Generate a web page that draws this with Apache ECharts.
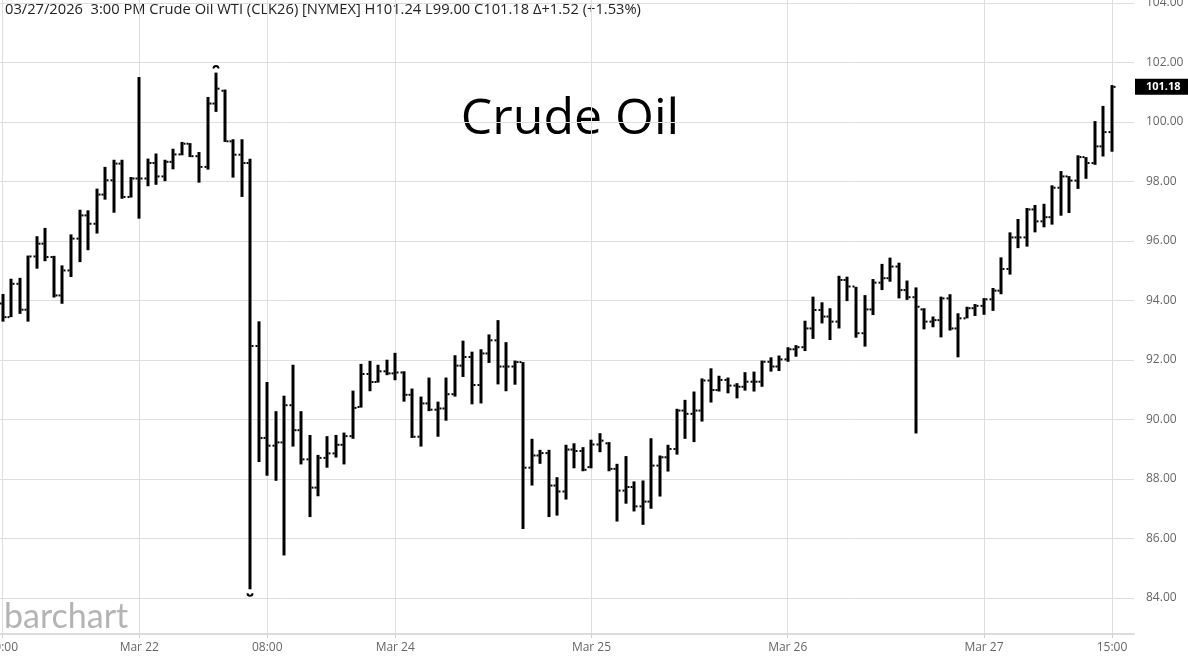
<!DOCTYPE html>
<html>
<head>
<meta charset="utf-8">
<title>Crude Oil</title>
<script src="https://cdn.jsdelivr.net/npm/echarts@6/dist/echarts.min.js"></script>
<style>
  html, body { margin: 0; padding: 0; background: #fff; }
  #chart { width: 1188px; height: 661px; }
</style>
</head>
<body>
<div id="chart"></div>
<script>
// hourly OHLC bars, CLK26, first bar sits 16 bars before the Mar 22 open
const firstBarIdx = -16

const opens = [
  93.90, 93.44, 94.56, 93.69, 95.48, 95.91, 95.46, 94.17, 95.01, 96.08,
  96.86, 96.58, 97.56, 98.04, 98.60, 97.48, 98.10, 98.10, 98.62, 98.17,
  98.66, 98.91, 99.27, 98.85, 98.49, 100.62, 101.05, 99.35, 98.90, 98.62,
  92.47, 89.38, 89.12, 89.23, 90.48, 89.64, 88.66, 87.71, 88.71, 88.86,
  89.15, 89.44, 90.42, 91.53, 91.26, 91.62, 91.55, 91.58, 90.83, 89.42,
  90.54, 90.33, 90.37, 90.85, 91.81, 92.10, 91.16, 92.22, 92.66, 91.78,
  91.78, 91.93, 88.38, 88.79, 88.87, 87.78, 87.58, 88.99, 88.94, 88.40,
  89.16, 89.20, 88.34, 87.61, 87.73, 87.08, 87.24, 88.45, 88.73, 89.01,
  90.30, 90.19, 90.30, 91.31, 90.99, 91.33, 91.14, 91.10, 91.27, 91.27,
  91.94, 91.78, 92.02, 92.36, 92.43, 93.06, 93.68, 93.46, 93.29, 94.69,
  94.47, 92.90, 93.70, 94.60, 94.75, 95.14, 94.35, 94.11, 93.70, 93.29,
  93.34, 94.07, 93.06, 93.40, 93.74, 93.82, 94.04, 94.33, 95.06, 96.12,
  96.12, 97.06, 96.66, 96.80, 97.79, 98.17, 98.03, 98.82, 98.62, 99.18,
  99.66
]
const highs = [
  94.22, 94.73, 94.76, 95.51, 96.16, 96.44, 95.50, 95.18, 96.22, 97.05,
  97.03, 97.76, 98.49, 98.73, 98.73, 98.15, 101.51, 98.77, 98.94, 98.73,
  99.10, 99.33, 99.29, 98.99, 100.84, 101.66, 101.09, 99.42, 99.42, 98.76,
  93.30, 91.26, 90.28, 90.80, 91.84, 90.28, 89.48, 88.81, 89.44, 89.48,
  89.56, 90.97, 91.87, 91.97, 91.84, 92.01, 92.24, 91.62, 91.04, 90.77,
  91.41, 90.60, 91.41, 92.16, 92.65, 92.28, 92.36, 92.86, 93.34, 92.60,
  91.98, 91.93, 89.35, 88.98, 88.98, 88.06, 89.15, 89.20, 89.07, 89.32,
  89.54, 89.24, 88.51, 88.77, 87.92, 87.95, 89.37, 88.79, 89.15, 90.36,
  90.66, 90.94, 91.38, 91.72, 91.47, 91.41, 91.22, 91.59, 91.61, 91.98,
  92.09, 92.15, 92.43, 92.50, 93.32, 94.13, 93.94, 93.74, 94.83, 94.80,
  94.46, 94.18, 94.72, 95.23, 95.44, 95.27, 94.67, 94.44, 93.74, 93.46,
  94.13, 94.21, 93.57, 93.79, 93.88, 94.08, 94.42, 95.45, 96.29, 96.74,
  97.11, 97.21, 97.25, 97.87, 98.35, 98.18, 98.88, 98.82, 100.03, 100.54,
  101.24
]
const lows = [
  93.29, 93.44, 93.55, 93.29, 95.07, 95.32, 94.10, 93.89, 94.79, 95.29,
  95.69, 96.25, 97.39, 96.95, 97.42, 97.46, 96.75, 97.84, 97.89, 98.01,
  98.41, 98.88, 98.82, 97.96, 98.40, 100.34, 99.33, 98.13, 97.48, 84.29,
  88.57, 88.11, 87.94, 85.43, 89.09, 88.49, 86.72, 87.42, 88.38, 88.72,
  88.49, 89.35, 90.40, 90.95, 91.24, 91.49, 91.32, 90.60, 89.38, 89.09,
  90.28, 89.42, 89.96, 90.77, 91.43, 90.51, 90.54, 91.90, 91.18, 90.95,
  91.17, 86.32, 87.78, 88.51, 86.72, 86.77, 87.31, 88.36, 88.26, 88.36,
  88.90, 88.26, 86.57, 87.17, 86.91, 86.46, 87.00, 87.41, 88.25, 88.82,
  89.35, 89.24, 89.93, 90.57, 90.94, 90.88, 90.71, 90.97, 90.94, 91.10,
  91.61, 91.63, 91.94, 92.11, 92.30, 92.71, 93.23, 92.67, 93.06, 93.98,
  92.75, 92.45, 93.51, 94.35, 94.63, 94.07, 94.02, 89.53, 93.03, 93.10,
  92.76, 92.99, 92.09, 93.40, 93.48, 93.52, 93.65, 94.21, 94.87, 95.76,
  95.81, 96.29, 96.46, 96.55, 96.85, 96.94, 97.75, 98.09, 98.56, 98.84,
  99.00
]
const closes = [
  93.44, 94.56, 93.69, 95.48, 95.91, 95.46, 94.17, 95.01, 96.08, 96.86,
  96.58, 97.56, 98.04, 98.60, 97.48, 98.10, 98.10, 98.62, 98.17, 98.66,
  98.91, 99.27, 98.85, 98.49, 100.62, 101.12, 99.35, 98.90, 98.62, 92.47,
  89.38, 89.12, 89.23, 90.48, 89.64, 88.66, 87.71, 88.71, 88.86, 89.15,
  89.44, 90.39, 91.53, 91.26, 91.62, 91.55, 91.58, 90.83, 89.42, 90.54,
  90.33, 90.37, 90.85, 91.81, 92.10, 91.16, 92.22, 92.66, 91.78, 91.78,
  91.93, 88.38, 88.79, 88.87, 87.78, 87.58, 88.99, 88.94, 88.31, 89.16,
  89.29, 88.34, 87.61, 87.73, 87.08, 87.24, 88.45, 88.73, 89.01, 90.30,
  90.19, 90.30, 91.31, 90.99, 91.33, 91.14, 91.10, 91.27, 91.27, 91.94,
  91.78, 92.02, 92.36, 92.43, 93.06, 93.68, 93.46, 93.29, 94.69, 94.47,
  92.90, 93.70, 94.60, 94.75, 95.14, 94.35, 94.11, 93.79, 93.29, 93.34,
  94.07, 93.06, 93.40, 93.74, 93.82, 94.04, 94.33, 95.06, 96.12, 96.12,
  97.06, 96.66, 96.80, 97.79, 98.17, 98.03, 98.82, 98.62, 99.18, 99.66,
  101.18
]

// x axis labels sit on these bar positions
const xTickIdx = [-16, 0, 15, 30, 53, 76, 99, 114]
const xTickLabels = ['00:00', 'Mar 22', '08:00', 'Mar 24', 'Mar 25', 'Mar 26', 'Mar 27', '15:00']
const yTicks = [84, 86, 88, 90, 92, 94, 96, 98, 100, 102, 104]

const headerText = '03/27/2026  3:00 PM Crude Oil WTI (CLK26) [NYMEX] H101.24 L99.00 C101.18 \u0394+1.52 (+1.53%)'
const lastPrice = closes[closes.length - 1]

const bars = opens.map((o, i) => [firstBarIdx + i, o, highs[i], lows[i], closes[i]])
const hiIdx = highs.indexOf(Math.max(...highs))
const loIdx = lows.indexOf(Math.min(...lows))

function renderBar(params, api) {
  const x = api.value(0)
  const pO = api.coord([x, api.value(1)])
  const pH = api.coord([x, api.value(2)])
  const pL = api.coord([x, api.value(3)])
  const pC = api.coord([x, api.value(4)])
  const cx = Math.round(pH[0])
  const kids = [
    { type: 'rect', shape: { x: cx - 1.5, y: pH[1], width: 3, height: Math.max(1, pL[1] - pH[1]) }, style: { fill: '#000' } },
    { type: 'rect', shape: { x: cx - 3.5, y: pO[1] - 1, width: 2, height: 2 }, style: { fill: '#000' } },
    { type: 'rect', shape: { x: cx + 1.5, y: pC[1] - 1, width: 2, height: 2 }, style: { fill: '#000' } }
  ]
  // period high / low markers
  if (params.dataIndex === hiIdx) {
    kids.push({ type: 'arc', shape: { cx: cx, cy: pH[1] - 4, r: 2.5, startAngle: Math.PI, endAngle: Math.PI * 2 },
      style: { stroke: '#000', fill: null, lineWidth: 2 } })
  }
  if (params.dataIndex === loIdx) {
    kids.push({ type: 'arc', shape: { cx: cx, cy: pL[1] + 4, r: 2.5, startAngle: 0, endAngle: Math.PI },
      style: { stroke: '#000', fill: null, lineWidth: 2 } })
  }
  return { type: 'group', children: kids }
}

const chart = echarts.init(document.getElementById('chart'))
chart.setOption({
  animation: false,
  backgroundColor: '#fff',
  grid: { left: 0, right: 54, top: 0, bottom: 27, containLabel: false, outerBoundsMode: 'none' },
  xAxis: {
    type: 'value',
    min: -16.32,
    max: 116.58,
    axisLine: { show: true, onZero: false, lineStyle: { color: '#dcdcdc', width: 2 } },
    axisTick: { show: true, length: 4, customValues: xTickIdx, lineStyle: { color: '#d0d0d0' } },
    axisLabel: {
      customValues: xTickIdx,
      margin: 8,
      color: '#666',
      fontSize: 12,
      fontFamily: 'Open Sans',
      formatter: (v) => xTickLabels[xTickIdx.indexOf(Math.round(v))] || ''
    },
    splitLine: { show: true, lineStyle: { color: '#dedede', width: 1 } }
  },
  yAxis: {
    type: 'value',
    position: 'right',
    min: 82.79,
    max: 104.1,
    axisLine: { show: true, lineStyle: { color: '#dcdcdc', width: 1 } },
    axisTick: { show: false, customValues: yTicks },
    axisLabel: {
      customValues: yTicks,
      margin: 12,
      color: '#666',
      fontSize: 12,
      fontFamily: 'Open Sans',
      formatter: (v) => v.toFixed(2)
    },
    splitLine: { show: true, lineStyle: { color: '#dedede', width: 1 } }
  },
  graphic: [
    {
      type: 'text', left: 5, top: 2, silent: true,
      style: { text: headerText, fill: '#222', font: '14.7px "Open Sans"' }
    },
    {
      type: 'text', silent: true,
      style: {
        text: 'Crude Oil', x: 570, y: 120, align: 'center', verticalAlign: 'middle',
        fill: '#000', font: '50px "Open Sans"'
      }
    },
    {
      type: 'text', silent: true,
      style: { text: 'barchart', x: 4, y: 617, verticalAlign: 'middle', fill: '#b4b4b4', font: '34px Lato' }
    }
  ],
  series: [
    {
      type: 'custom',
      renderItem: renderBar,
      encode: { x: 0, y: [1, 2, 3, 4] },
      data: bars,
      markLine: {
        silent: true,
        symbol: 'none',
        lineStyle: { color: 'transparent', width: 0 },
        label: {
          show: true,
          position: 'end',
          distance: 1,
          formatter: () => lastPrice.toFixed(2),
          backgroundColor: '#000',
          color: '#fff',
          fontWeight: 'bold',
          fontSize: 11,
          fontFamily: 'Open Sans',
          padding: [3, 12, 2, 11]
        },
        data: [{ yAxis: lastPrice }]
      }
    }
  ]
})
window.addEventListener('resize', () => chart.resize())
</script>
</body>
</html>
